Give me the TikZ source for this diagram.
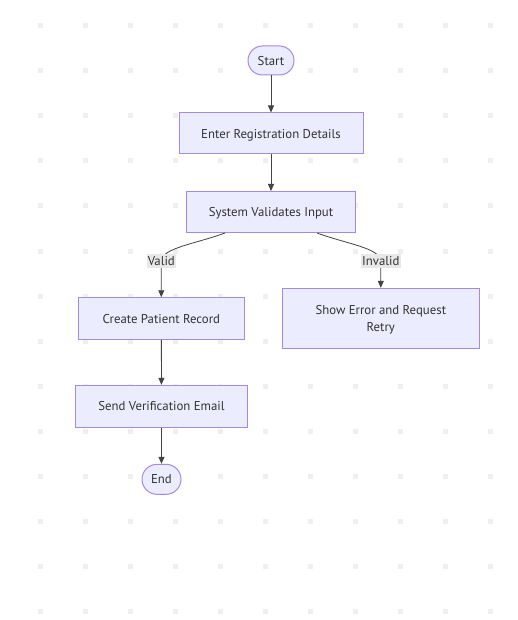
\documentclass[tikz,border=0pt]{standalone}
\usepackage{fontspec}
\setmainfont{PT Sans}
\usetikzlibrary{arrows.meta,calc}
\definecolor{nodefill}{HTML}{ECECFF}
\definecolor{nodeline}{HTML}{A58AE0}
\definecolor{inkgray}{HTML}{333333}
\definecolor{edgegray}{HTML}{444444}
\definecolor{gridgray}{HTML}{EFEFEF}
\definecolor{labelbg}{HTML}{E8E8E8}
\tikzset{
  flowbox/.style={draw=nodeline, fill=nodefill, line width=1pt, text=inkgray,
    font=\fontsize{12.8}{17}\selectfont, align=center, inner sep=0pt, text depth=0pt},
  terminal/.style={flowbox, rounded corners=14.5pt},
  edge/.style={draw=edgegray, line width=0.8pt, -{Triangle[length=7pt,width=6pt]}},
  edgelabel/.style={fill=labelbg, text=inkgray, inner sep=1.2pt,
    font=\fontsize{12.8}{14}\selectfont, minimum height=14pt},
  griddot/.style={fill=gridgray}
}
\begin{document}
\begin{tikzpicture}[x=1pt,y=-1pt]
  \useasboundingbox (0,0) rectangle (517,620);
  \fill[white] (0,0) rectangle (517,620);
  % dotted background grid
  \foreach \gx in {0,...,10}{
    \foreach \gy in {0,...,13}{
      \fill[griddot] ({40+45*\gx-2.5},{26+45*\gy-2.5}) rectangle ++(5,5);
    }
  }
  % nodes
  \node[terminal, minimum width=46pt, minimum height=29pt] (start) at (271,60.5) {Start};
  \node[flowbox, minimum width=184pt, minimum height=41pt] (enter) at (271,133.5) {Enter Registration Details};
  \node[flowbox, minimum width=169pt, minimum height=41pt] (validate) at (271,212) {System Validates Input};
  \node[flowbox, minimum width=166pt, minimum height=41.5pt] (create) at (161.3,318.5) {Create Patient Record};
  \node[flowbox, minimum width=197pt, minimum height=60pt] (error) at (380.8,318.3) {Show Error and Request\\Retry};
  \node[flowbox, minimum width=172pt, minimum height=42pt] (email) at (161.5,406.3) {Send Verification Email};
  \node[terminal, rounded corners=15pt, minimum width=39pt, minimum height=30pt] (finish) at (161.5,479.3) {End};
  % label anchors on the branch edges
  \coordinate (validpt) at (161.3,261);
  \coordinate (invalidpt) at (380.8,261);
  \coordinate (validstart) at ($(validate.south)+(-46,0)$);
  \coordinate (invalidstart) at ($(validate.south)+(46,0)$);
  % connectors
  \draw[edge] (start) -- (enter);
  \draw[edge] (enter) -- (validate);
  \draw[edge] (validstart) .. controls (195,244) and (162,248) .. (validpt) -- (create.north);
  \draw[edge] (invalidstart) .. controls (347,244) and (380,248) .. (invalidpt) -- (error.north);
  \draw[edge] (create) -- (email);
  \draw[edge] (email) -- (finish);
  % edge labels
  \node[edgelabel] (validlbl) at (validpt) {Valid};
  \node[edgelabel] (invalidlbl) at (invalidpt) {Invalid};
\end{tikzpicture}
\end{document}
